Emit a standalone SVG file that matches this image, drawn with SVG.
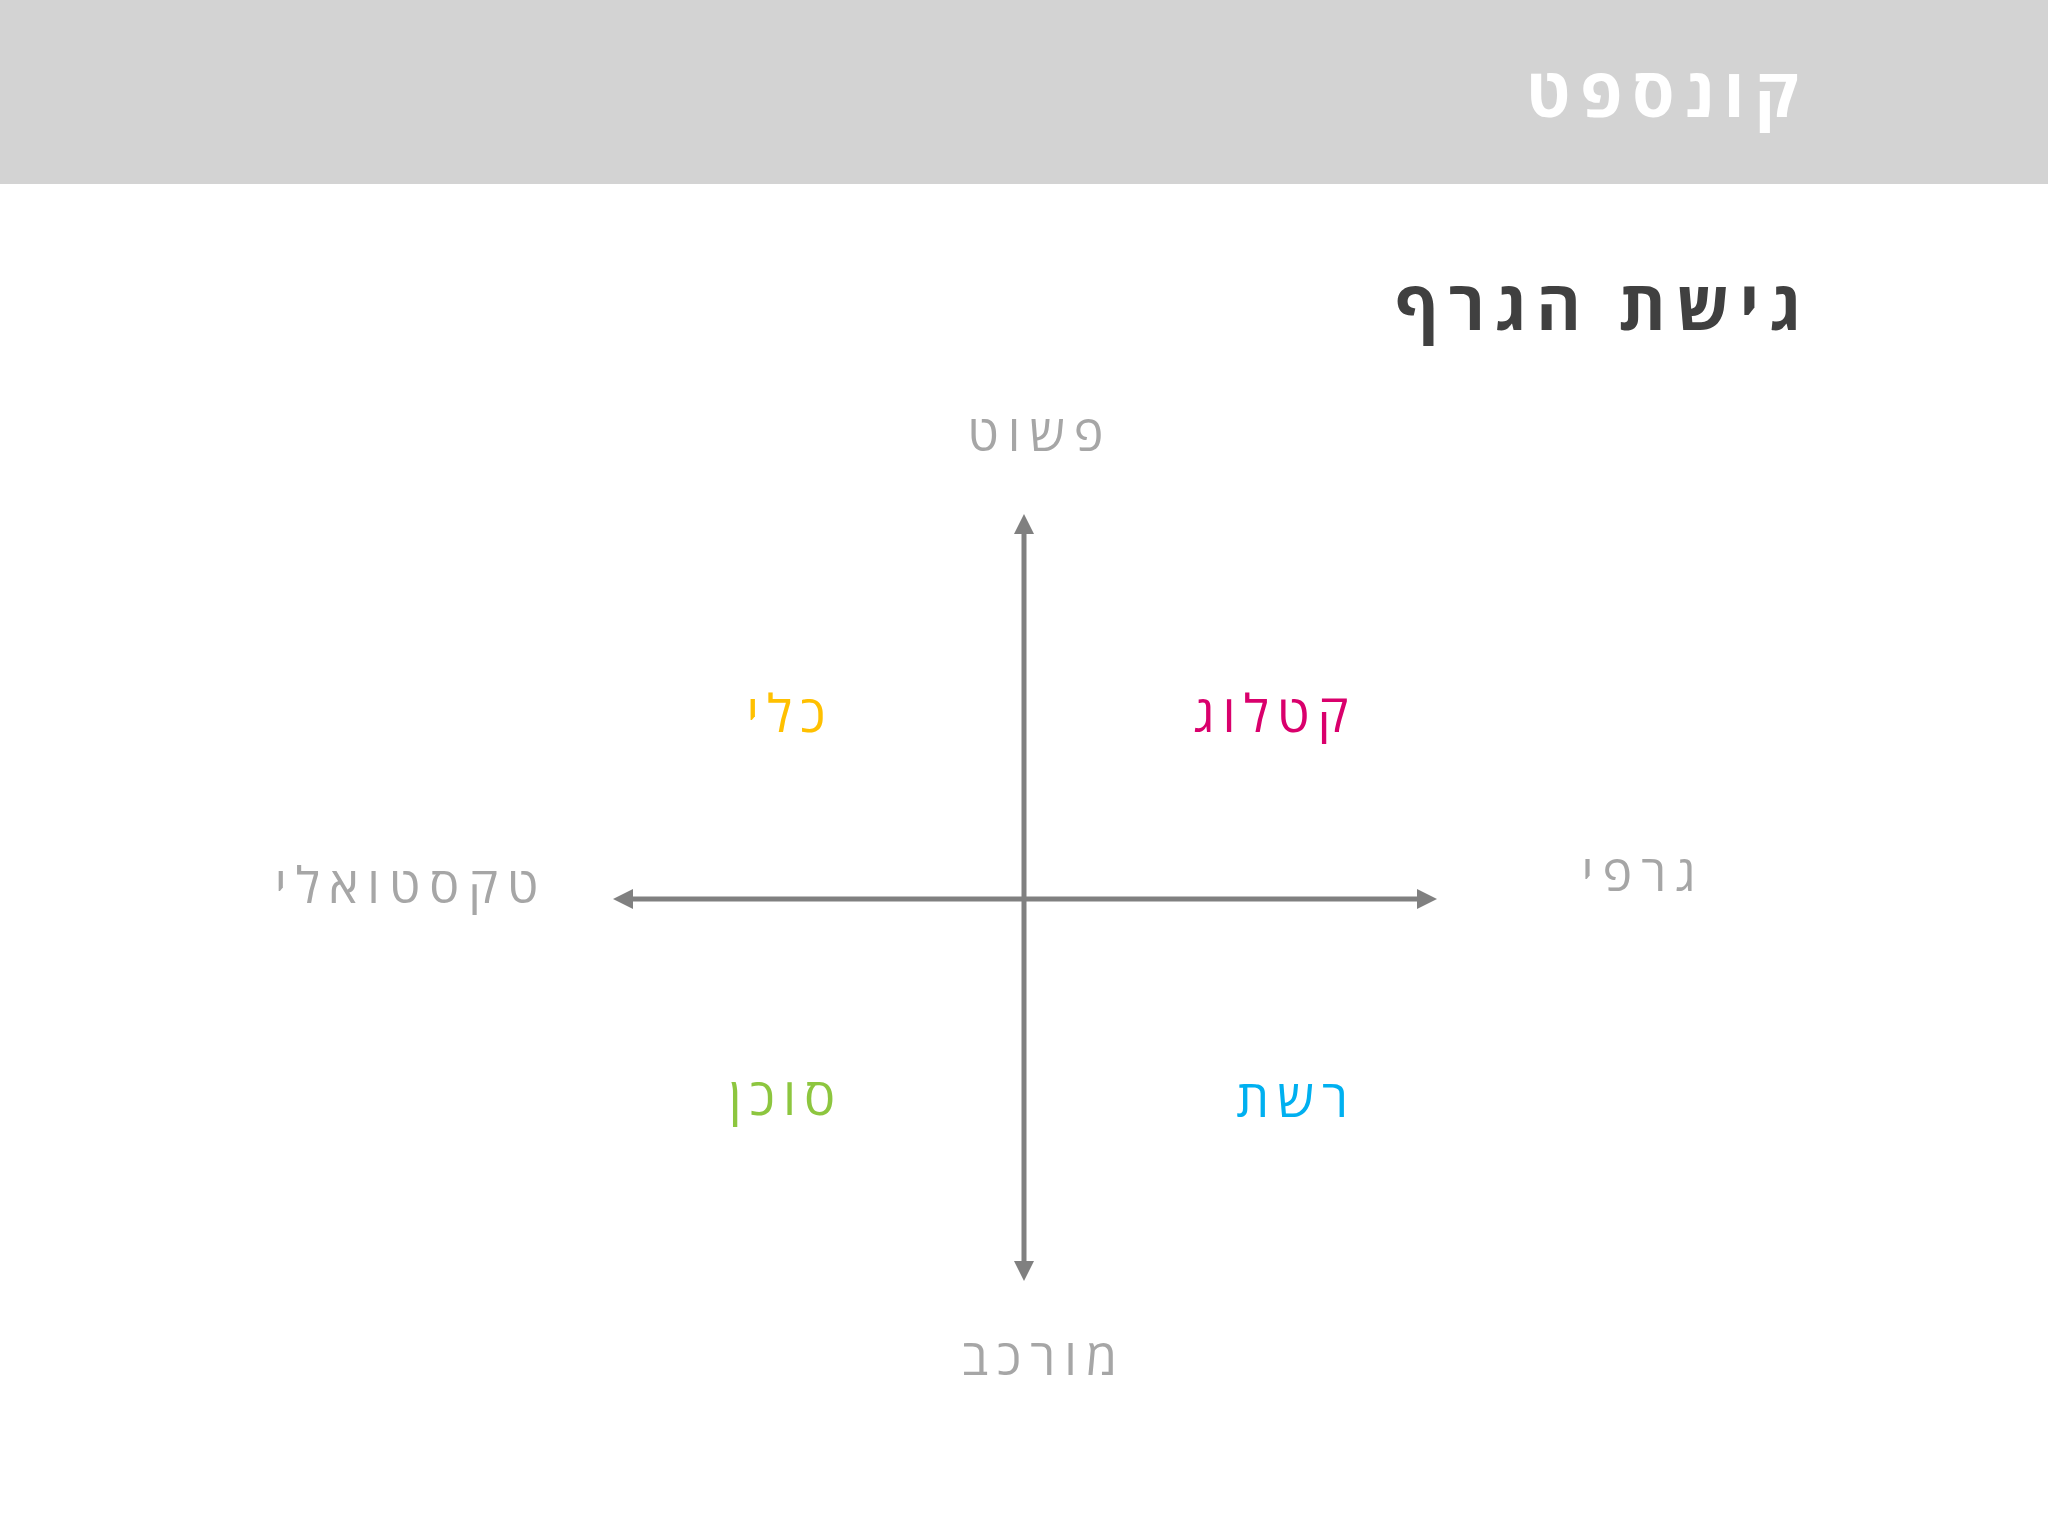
<svg xmlns="http://www.w3.org/2000/svg" width="2048" height="1536" viewBox="0 0 2048 1536">
<style>
.t{font-family:"Open Sans","DejaVu Sans","Liberation Sans",sans-serif;}
.ax{font-size:50px;fill:#A6A6A6;text-anchor:middle;letter-spacing:9px;font-weight:500;}
.q{font-size:52px;text-anchor:middle;letter-spacing:8px;font-weight:500;}
.h{font-size:68px;font-weight:bold;text-anchor:middle;letter-spacing:10px;}
.axis{stroke:#808080;stroke-width:5;fill:none;}
</style>
<defs>
<marker id="ah" viewBox="0 0 20 20" refX="0" refY="10" markerWidth="20" markerHeight="20" markerUnits="userSpaceOnUse" orient="auto-start-reverse">
<path d="M0,0 L20,10 L0,20 Z" fill="#808080"/>
</marker>
</defs>
<rect x="0" y="0" width="2048" height="1536" fill="#FFFFFF"/>
<g id="header">
<rect x="0" y="0" width="2048" height="184" fill="#D3D3D3"/>
<text class="t h" x="1667" y="117" fill="#FFFFFF">קונספט</text>
</g>
<g id="subtitle">
<text class="t h" x="1603" y="330" fill="#404040">גישת הגרף</text>
</g>
<g id="connectors">
<path class="axis" d="M1024,1261 L1024,534" marker-start="url(#ah)" marker-end="url(#ah)"/>
<path class="axis" d="M633,899 L1417,899" marker-start="url(#ah)" marker-end="url(#ah)"/>
</g>
<g id="label-simple"><text class="t ax" x="1040" y="451">פשוט</text></g>
<g id="label-graphic"><text class="t ax" x="1643" y="891">גרפי</text></g>
<g id="label-complex"><text class="t ax" x="1044" y="1375">מורכב</text></g>
<g id="label-textual"><text class="t ax" x="411" y="903">טקסטואלי</text></g>
<g id="q-tool"><text class="t q" x="790" y="732" fill="#FFC000">כלי</text></g>
<g id="q-catalog"><text class="t q" x="1275" y="732" fill="#D9006C">קטלוג</text></g>
<g id="q-agent"><text class="t q" x="786" y="1115" fill="#8DC63F">סוכן</text></g>
<g id="q-network"><text class="t q" x="1296" y="1117" fill="#00B0F0">רשת</text></g>
</svg>
